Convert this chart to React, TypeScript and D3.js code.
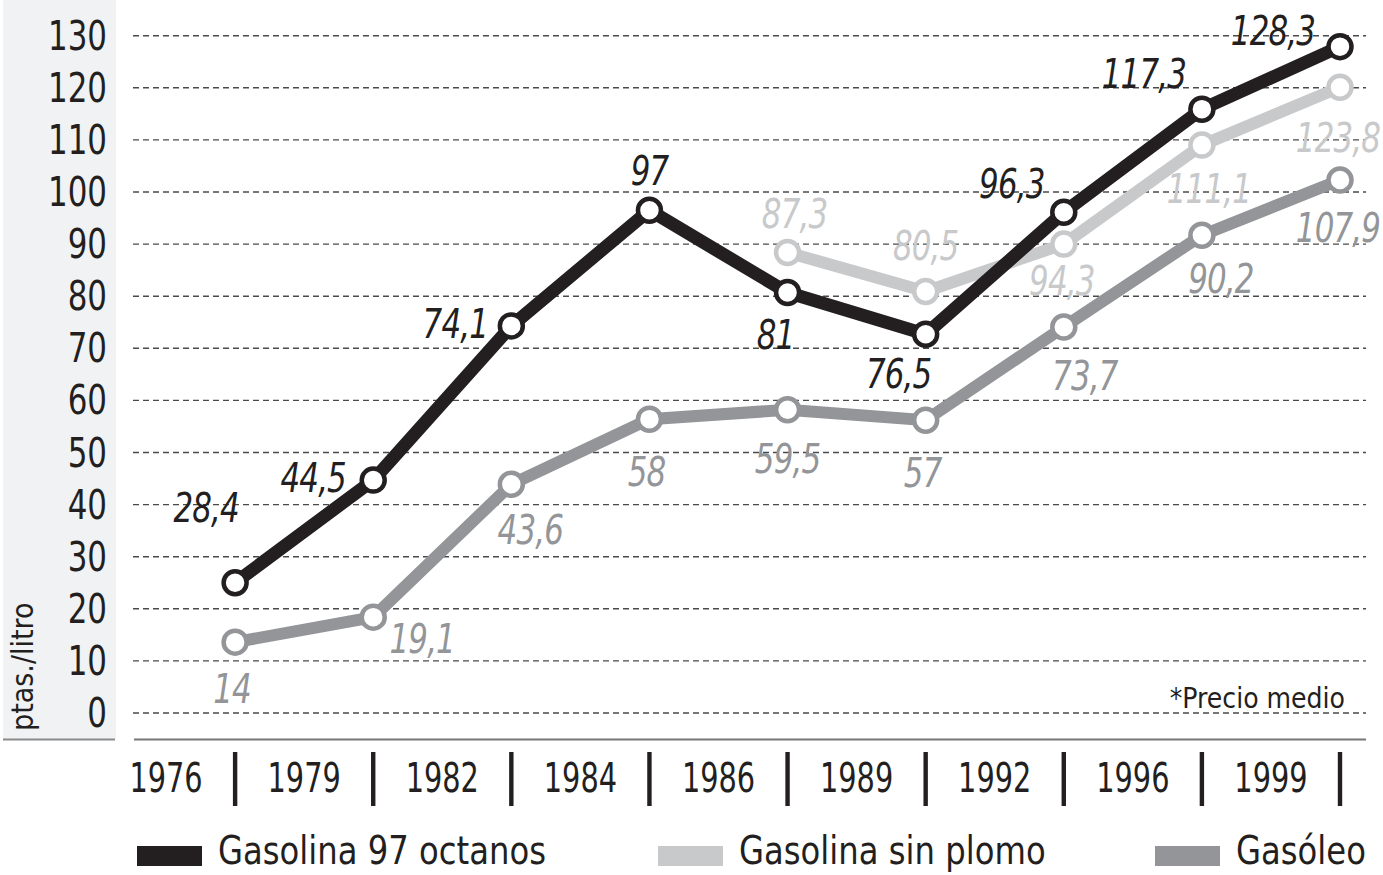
import React, { useEffect, useRef } from "react";
import * as d3 from "d3";

// data (plotted positions) plus the printed labels
const years = ["1976", "1979", "1982", "1984", "1986", "1989", "1992", "1996", "1999"];
const gasolina97 = [25.0, 44.7, 74.3, 96.5, 80.7, 72.7, 96.1, 115.9, 127.9];
const gasolina97Labels = ["28,4", "44,5", "74,1", "97", "81", "76,5", "96,3", "117,3", "128,3"];
const sinPlomo = [null, null, null, null, 88.4, 80.9, 90.0, 109.0, 120.1];
const sinPlomoLabels = [null, null, null, null, "87,3", "80,5", "94,3", "111,1", "123,8"];
const gasoleo = [13.6, 18.4, 43.9, 56.4, 58.2, 56.2, 74.1, 91.7, 102.3];
const gasoleoLabels = ["14", "19,1", "43,6", "58", "59,5", "57", "73,7", "90,2", "107,9"];
const yTicks = [0, 10, 20, 30, 40, 50, 60, 70, 80, 90, 100, 110, 120, 130];
const seriesNames = ["Gasolina 97 octanos", "Gasolina sin plomo", "Gasóleo"];

const FONT = "'DejaVu Sans Condensed', 'Liberation Sans Narrow', 'Roboto Condensed', sans-serif";
const BLACK = "#231f20";
const LIGHT = "#c8c9cb";
const DARK = "#939598";

// label placement relative to each point [dx, dy of baseline]
const offBlack = [[-29, -61], [-60, 12], [-56, 12], [0, -25], [-12, 56], [-27, 54], [-52, -14], [-58, -21], [-67, -2]];
const offLight = [null, null, null, null, [7, -24], [0, -32], [-2, 51], [7, 58], [-2, 65]];
const offDark = [[-3, 61], [49, 36], [19, 60], [-3, 67], [0, 63], [-3, 67], [21, 63], [19, 58], [-2, 62]];

type Sel = d3.Selection<any, any, any, any>;

// text squeezed horizontally to mimic the condensed typeface
const squeezed = (
  g: Sel, x: number, y: number, txt: string, size: number, sx: number,
  anchor: string, fill: string, italic = false
) =>
  g.append("text")
    .attr("transform", `translate(${x},${y}) scale(${sx},1)`)
    .attr("text-anchor", anchor)
    .attr("font-family", FONT).attr("font-size", size)
    .attr("font-style", italic ? "italic" : "normal")
    .attr("fill", fill)
    .text(txt);

const App: React.FC = () => {
  const svgRef = useRef<SVGSVGElement | null>(null);

  useEffect(() => {
    if (!svgRef.current) return;
    const width = 1383;
    const height = 875;
    const svg = d3.select(svgRef.current).attr("width", width).attr("height", height);
    svg.selectAll("*").remove();

    const x = d3.scaleBand().domain(years).range([97, 1340]);
    const px = (i: number) => (x(years[i]) as number) + x.bandwidth();
    const y = d3.scaleLinear().domain([0, 130]).range([713, 35.7]);

    // left panel
    svg.append("rect").attr("x", 3).attr("y", 0).attr("width", 113).attr("height", 739).attr("fill", "#f1f2f4");
    svg.append("line").attr("x1", 3).attr("x2", 115).attr("y1", 739.5).attr("y2", 739.5)
      .attr("stroke", "#8a8a8a").attr("stroke-width", 2);

    // gridlines
    svg.append("g").selectAll("line").data(yTicks).join("line")
      .attr("x1", 133).attr("x2", 1366)
      .attr("y1", d => y(d)).attr("y2", d => y(d))
      .attr("stroke", "#4a4a4a").attr("stroke-width", 1.4).attr("stroke-dasharray", "6,4");

    const yg = svg.append("g");
    yTicks.forEach(t => squeezed(yg, 107, y(t) + 14, String(t), 40, 0.86, "end", BLACK));

    svg.append("text")
      .attr("transform", "translate(33,731) rotate(-90)")
      .attr("font-family", FONT).attr("font-size", 30).attr("fill", BLACK)
      .text("ptas./litro");

    // x axis line
    svg.append("line").attr("x1", 134).attr("x2", 1366).attr("y1", 739.5).attr("y2", 739.5)
      .attr("stroke", "#777").attr("stroke-width", 2);

    const xg = svg.append("g");
    years.forEach(d => squeezed(xg, (x(d) as number) + x.bandwidth() / 2, 792, d, 40, 0.8, "middle", BLACK));

    svg.append("g").selectAll("rect").data(years).join("rect")
      .attr("x", (_, i) => px(i) - 2.2).attr("y", 752)
      .attr("width", 4.4).attr("height", 54).attr("fill", BLACK);

    svg.append("text")
      .attr("x", 1345).attr("y", 708).attr("text-anchor", "end")
      .attr("font-family", FONT).attr("font-size", 28).attr("fill", BLACK)
      .text("*Precio medio");

    const drawSeries = (
      vals: (number | null)[],
      labels: (string | null)[],
      offs: (number[] | null)[],
      color: string,
      lineW: number
    ) => {
      const pts = vals.map((v, i) => ({ i, v })).filter(d => d.v !== null) as { i: number; v: number }[];
      const line = d3.line<{ i: number; v: number }>().x(d => px(d.i)).y(d => y(d.v));
      const g = svg.append("g");
      g.append("path").datum(pts)
        .attr("fill", "none").attr("stroke", color).attr("stroke-width", lineW)
        .attr("stroke-linejoin", "miter")
        .attr("d", line as any);
      g.selectAll("circle").data(pts).join("circle")
        .attr("cx", d => px(d.i)).attr("cy", d => y(d.v)).attr("r", 11.5)
        .attr("fill", "#fff").attr("stroke", color).attr("stroke-width", 4.5);
      pts.forEach(d => {
        const o = offs[d.i] as number[];
        squeezed(g, px(d.i) + o[0], y(d.v) + o[1], labels[d.i] as string, 40, 0.86, "middle", color, true)
          .attr("letter-spacing", -1);
      });
    };

    drawSeries(gasoleo, gasoleoLabels, offDark, DARK, 12);
    drawSeries(sinPlomo, sinPlomoLabels, offLight, LIGHT, 12);
    drawSeries(gasolina97, gasolina97Labels, offBlack, BLACK, 13);

    // legend
    const legendX = [137, 658, 1155];
    const legendColors = [BLACK, LIGHT, DARK];
    const lg = svg.append("g");
    seriesNames.forEach((name, i) => {
      lg.append("rect").attr("x", legendX[i]).attr("y", 846).attr("width", 65).attr("height", 20)
        .attr("fill", legendColors[i]);
      squeezed(lg, legendX[i] + 81, 864, name, 39, 0.92, "start", BLACK);
    });
  }, []);

  return (
    <div style={{ position: "absolute", left: 0, top: 0, background: "#fff" }}>
      <svg ref={svgRef}></svg>
    </div>
  );
};

export default App;
